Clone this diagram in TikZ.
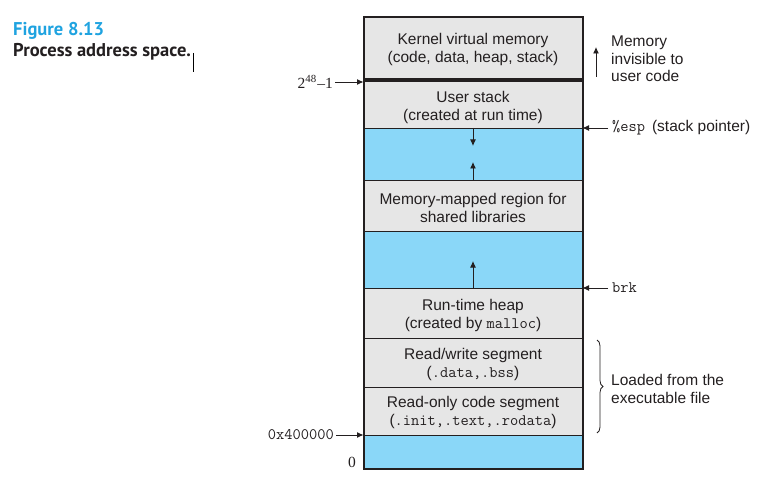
\documentclass[tikz,border=0pt]{standalone}
\usepackage{fontspec}
\setmainfont{Liberation Sans}
\newfontfamily\titlefont{PT Sans}
\newfontfamily\numfont{Liberation Serif}
\usetikzlibrary{arrows.meta,decorations.pathreplacing}
\definecolor{segGray}{HTML}{E6E6E6}
\definecolor{gapBlue}{HTML}{8AD7F8}
\definecolor{figCyan}{HTML}{1FA3E0}
\definecolor{ink}{HTML}{231F20}
\newcommand\codetxt[1]{{\ttfamily\fontsize{16}{18}\selectfont #1}}
\begin{document}
\begin{tikzpicture}[x=1pt,y=-1pt,
  seg/.style={draw=ink, line width=1pt, minimum width=218pt, inner sep=0pt,
    anchor=north, font=\fontsize{15.5}{18}\selectfont, text=ink, align=center},
  grayseg/.style={seg, fill=segGray},
  blueseg/.style={seg, fill=gapBlue},
  lbl/.style={inner sep=0pt, text=ink, font=\fontsize{15.5}{17.5}\selectfont, align=left},
  arr/.style={draw=ink, line width=0.9pt, -{Latex[length=6.5pt,width=6pt]}},
  titletext/.style={inner sep=0pt, anchor=base west, font=\titlefont\bfseries\fontsize{18.5}{21}\selectfont}
]
\useasboundingbox (0,0) rectangle (766,500);

% title
\node[titletext, text=figCyan] (fig) at (13,36) {Figure 8.13};
\node[titletext, text=ink] (cap) at (13,57) {Process address space.};
\draw[black, line width=1pt] ([xshift=2pt,yshift=4pt]cap.base east) -- ([xshift=2pt,yshift=-15pt]cap.base east);

% segments
\node[grayseg, minimum height=63pt] (kern) at (473,17) {Kernel virtual memory\\(code, data, heap, stack)};
\node[grayseg, minimum height=48pt] (ustack) at (473,80) {\rule{0pt}{17pt}User stack\\(created at run time)};
\node[blueseg, minimum height=52pt] (gapA) at (473,128) {};
\node[grayseg, minimum height=51pt] (mmap) at (473,180) {\rule{0pt}{15pt}Memory-mapped region for\\shared libraries};
\node[blueseg, minimum height=57pt] (gapB) at (473,231) {};
\node[grayseg, minimum height=50pt] (heap) at (473,288) {\rule{0pt}{15pt}Run-time heap\\(created by \codetxt{malloc})};
\node[grayseg, minimum height=49pt] (rw) at (473,338) {\rule{0pt}{15pt}Read/write segment\\(\codetxt{.data,.bss})};
\node[grayseg, minimum height=48pt] (ro) at (473,387) {\rule{0pt}{13pt}Read-only code segment\\(\codetxt{.init,.text,.rodata})};
\node[blueseg, minimum height=33pt] (gapC) at (473,435) {};

% outer frame and thick kernel boundary
\draw[ink, line width=2pt] (kern.north west) rectangle (gapC.south east);
\draw[ink, line width=4pt] (ustack.north west) -- (ustack.north east);

% growth arrows
\draw[arr] (gapA.north) -- ++(0,18);
\draw[arr] (mmap.north) -- ++(0,-18);
\draw[arr] (heap.north) -- ++(0,-27);

% left labels
\node[lbl, anchor=east, font=\numfont\fontsize{15.5}{17}\selectfont] (top) at (333,82) {2\textsuperscript{48}\kern0.5pt\textendash1};
\draw[arr] (top.east) ++(2,0) -- (top.east -| ustack.west);
\node[lbl, anchor=east] (start) at (334,435) {\codetxt{0x400000}};
\draw[arr] (start.east) ++(2,0) -- (start.east -| ro.west);
\node[lbl, anchor=center, font=\numfont\fontsize{15.5}{17}\selectfont] (zero) at (352,462) {0};

% right labels
\node[lbl, anchor=west] (mem) at (611,59) {Memory\\invisible to\\user code};
\coordinate (memLow) at (596,77);
\coordinate (memHigh) at (596,47);
\draw[arr] (memLow) -- (memHigh);

\node[lbl, anchor=west] (esp) at (612,128) {\codetxt{\%esp}\, (stack pointer)};
\draw[arr] ([xshift=-4pt]esp.west) -- (esp.west -| gapA.east);

\node[lbl, anchor=west] (brk) at (612,288) {\codetxt{brk}};
\draw[arr] ([xshift=-4pt]brk.west) -- (brk.west -| heap.east);

\coordinate (braceTop) at (597,340);
\coordinate (braceBot) at (597,433);
\draw[ink, line width=0.8pt, decorate, decoration={brace, amplitude=6pt}] (braceTop) -- (braceBot);
\node[lbl, anchor=west] (loaded) at (611,389) {Loaded from the\\executable file};
\end{tikzpicture}
\end{document}
